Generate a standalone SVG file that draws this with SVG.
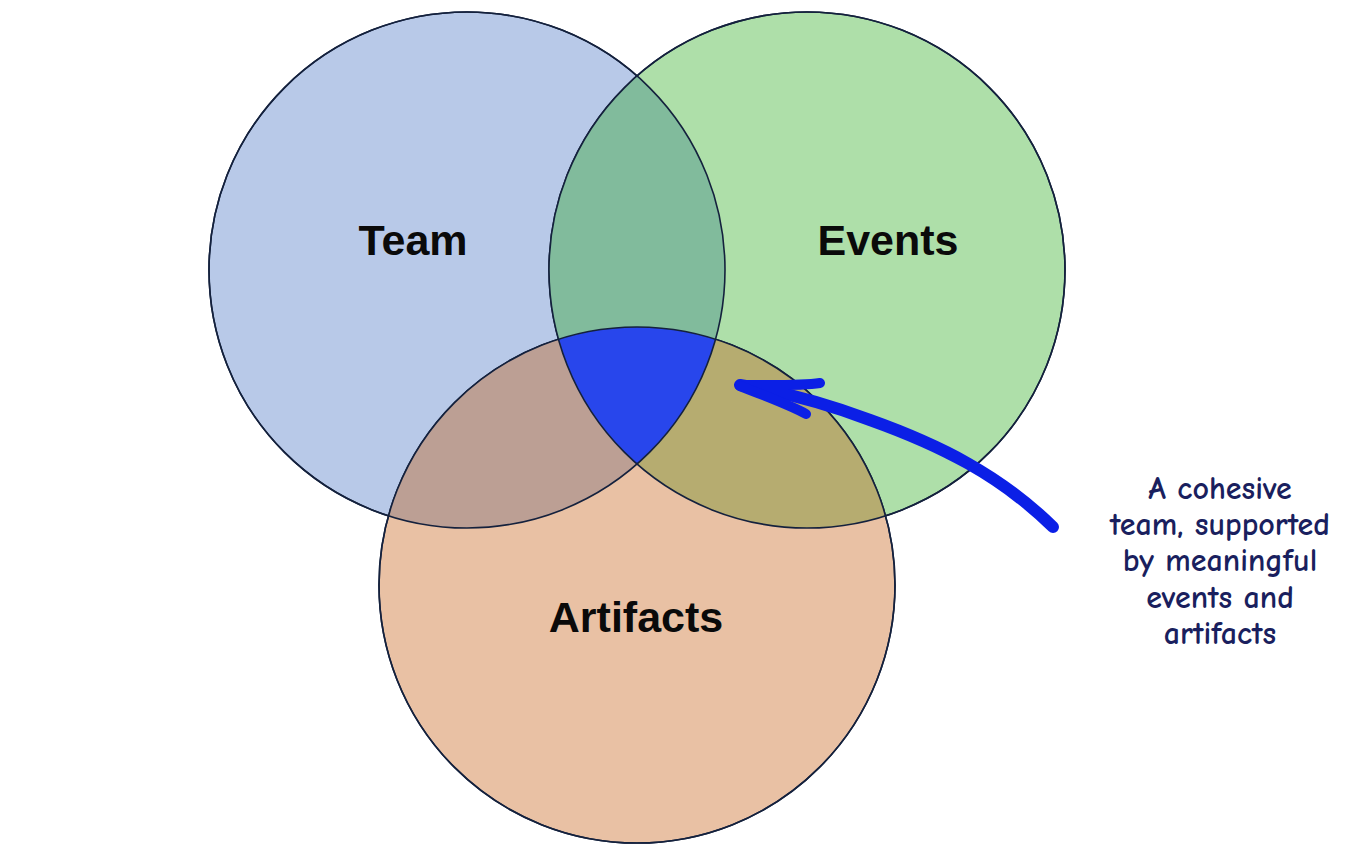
<svg xmlns="http://www.w3.org/2000/svg" xmlns:xlink="http://www.w3.org/1999/xlink" width="1358" height="848" viewBox="0 0 1358 848">
<style>
.ring{stroke:#14213D;stroke-width:1.6}
.outline{fill:none;stroke:#14213D;stroke-width:1.6}
.lbl{font-family:"Liberation Sans",Arial,sans-serif;font-weight:bold;font-size:43px;fill:#0A0A0A;text-anchor:middle}
.note{font-family:"Comic Neue","DejaVu Sans","Noto Sans",sans-serif;font-weight:bold;font-size:32px;fill:#1A1F5E;text-anchor:middle}
.arrow{fill:none;stroke:#0B1FE6;stroke-linecap:round;stroke-linejoin:round}
</style>
<defs>
<circle id="cT" cx="467" cy="270" r="258"/>
<circle id="cE" cx="807" cy="270" r="258"/>
<circle id="cA" cx="637" cy="585" r="258"/>
<clipPath id="clipT"><use xlink:href="#cT"/></clipPath>
<clipPath id="clipE"><use xlink:href="#cE"/></clipPath>
</defs>
<rect width="1358" height="848" fill="#FFFFFF"/>

<g id="node-team">
<use xlink:href="#cT" class="ring" fill="#B8C9E8"/>
</g>
<g id="node-events">
<use xlink:href="#cE" class="ring" fill="#AEDFA9"/>
</g>
<g id="node-artifacts">
<use xlink:href="#cA" class="ring" fill="#E9C1A4"/>
</g>

<g id="overlaps">
<g clip-path="url(#clipT)"><use xlink:href="#cE" fill="#81BB9C"/></g>
<g clip-path="url(#clipT)"><use xlink:href="#cA" fill="#BC9F94"/></g>
<g clip-path="url(#clipE)"><use xlink:href="#cA" fill="#B6AC70"/></g>
<g id="core" clip-path="url(#clipT)"><g clip-path="url(#clipE)"><use xlink:href="#cA" fill="#2846EC"/></g></g>
</g>

<g id="outlines">
<use xlink:href="#cT" class="outline"/>
<use xlink:href="#cE" class="outline"/>
<use xlink:href="#cA" class="outline"/>
</g>

<g id="labels">
<text class="lbl" x="413" y="255">Team</text>
<text class="lbl" x="888" y="255">Events</text>
<text class="lbl" x="636" y="632">Artifacts</text>
</g>

<g id="connectors">
<path class="arrow" stroke-width="12" d="M1053,527 C1000,475 940,445 870,420 C830,405 790,393 740,385"/>
<path class="arrow" stroke-width="10" d="M740,385 C770,385 800,386 820,383"/>
<path class="arrow" stroke-width="10" d="M740,386 C765,396 790,405 806,414"/>
</g>

<g id="note">
<text class="note" x="1220" y="499">A cohesive</text>
<text class="note" x="1220" y="535">team, supported</text>
<text class="note" x="1220" y="571">by meaningful</text>
<text class="note" x="1220" y="608">events and</text>
<text class="note" x="1220" y="644">artifacts</text>
</g>
</svg>
